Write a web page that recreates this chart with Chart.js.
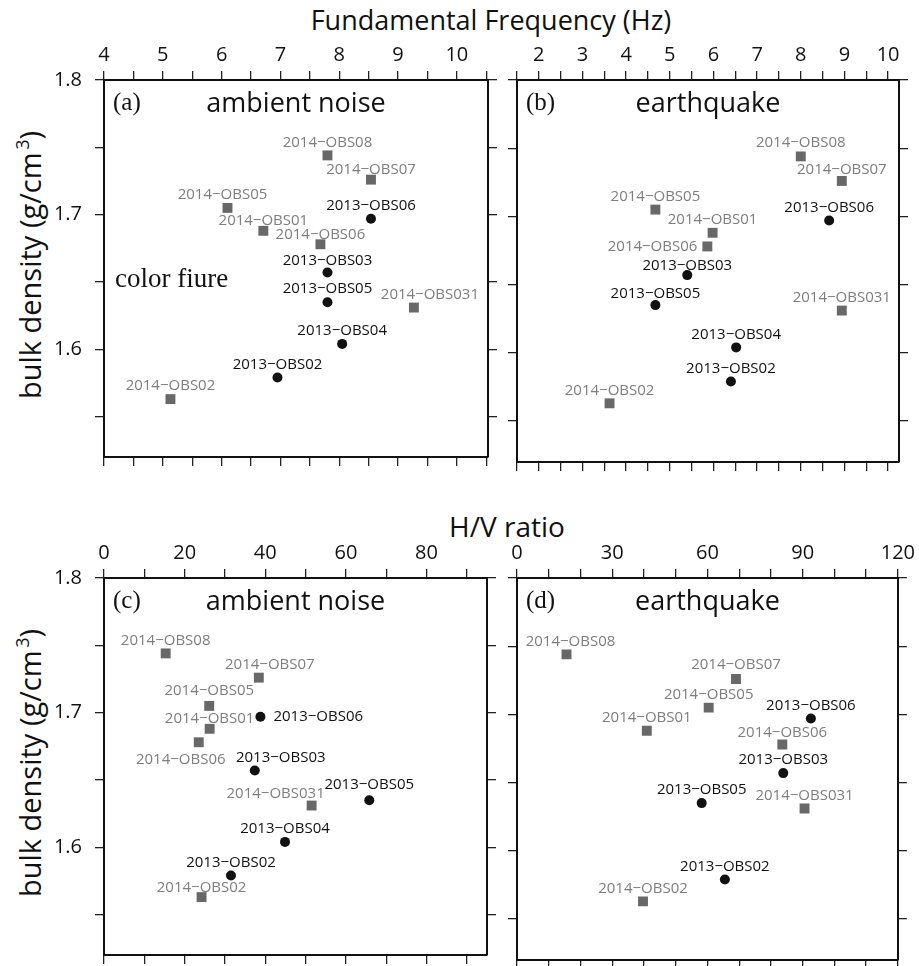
<!DOCTYPE html>
<html>
<head>
<meta charset="utf-8">
<script src="https://cdn.jsdelivr.net/npm/chart.js@4.4.1/dist/chart.umd.min.js"></script>
<style>
  body { margin: 0; background: #fff; width: 919px; height: 966px; position: relative; overflow: hidden; font-family: "Open Sans", sans-serif; color: #111; }
  canvas { position: absolute; }
  .title { position: absolute; transform: translate(-50%, -50%); white-space: nowrap; line-height: 1; }
  .ylab { position: absolute; transform: translate(-50%, -50%) rotate(-90deg); white-space: nowrap; line-height: 1; font-size: 29px; }
  .ylab sup { font-size: 60%; vertical-align: 0.7em; line-height: 0; margin-left: 3px; }
</style>
</head>
<body>
<div class="title" style="left:491px;top:19px;font-size:27px">Fundamental Frequency (Hz)</div>
<div class="title" style="left:507px;top:526px;font-size:28px">H/V ratio</div>
<div class="ylab" style="left:29px;top:265px">bulk density (g/cm<sup>3</sup>)</div>
<div class="ylab" style="left:29px;top:763px">bulk density (g/cm<sup>3</sup>)</div>
<canvas id="pa"></canvas>
<canvas id="pb"></canvas>
<canvas id="pc"></canvas>
<canvas id="pd"></canvas>
<script>
// stations and bulk density
const names2013 = ['2013−OBS02', '2013−OBS03', '2013−OBS04', '2013−OBS05', '2013−OBS06'];
const density2013 = [1.579, 1.657, 1.604, 1.635, 1.697];
const names2014 = ['2014−OBS01', '2014−OBS02', '2014−OBS031', '2014−OBS05', '2014−OBS06', '2014−OBS07', '2014−OBS08'];
const density2014 = [1.688, 1.563, 1.631, 1.705, 1.678, 1.726, 1.744];

// fundamental frequency (Hz)
const freqAmbient2013 = [6.95, 7.80, 8.05, 7.80, 8.54];
const freqAmbient2014 = [6.71, 5.13, 9.27, 6.10, 7.68, 8.54, 7.80];
const freqQuake2013 = [6.40, 5.40, 6.52, 4.67, 8.65];
const freqQuake2014 = [5.98, 3.62, 8.94, 4.67, 5.86, 8.94, 8.00];

// H/V ratio
const hvAmbient2013 = [31.5, 37.4, 44.9, 65.8, 38.8];
const hvAmbient2014 = [26.2, 24.2, 51.5, 26.1, 23.5, 38.4, 15.3];
const hvQuake2013 = [65.5, 83.9, null, 58.2, 92.6];
const hvQuake2014 = [40.9, 39.7, 90.6, 60.4, 83.6, 69.0, 15.6];

// tick labels
const freqTicksA = [4, 5, 6, 7, 8, 9, 10];
const freqTicksB = [2, 3, 4, 5, 6, 7, 8, 9, 10];
const hvTicksC = [0, 20, 40, 60, 80];
const hvTicksD = [0, 30, 60, 90, 120];
const densityTicks = [1.6, 1.7, 1.8];

// label offsets from the marker [dx, dy, align], default is centred above
const placeA = { '2014−OBS07': [0, -10], '2014−OBS05': [-5, -13], '2014−OBS01': [0, -10], '2014−OBS06': [0, -10], '2013−OBS03': [0, -12], '2014−OBS031': [16, -13] };
const placeB = { '2014−OBS08': [0, -14], '2014−OBS07': [0, -11], '2014−OBS06': [-10, 0, 'right'], '2013−OBS03': [0, -9], '2013−OBS05': [0, -11] };
const placeC = { '2014−OBS07': [11, -13], '2014−OBS05': [0, -15], '2014−OBS01': [0, -10], '2013−OBS06': [13, 0, 'left'], '2014−OBS06': [-18, 17], '2013−OBS03': [26, -13], '2013−OBS05': [0, -15], '2014−OBS031': [-36, -12], '2014−OBS02': [0, -9] };
const placeD = { '2014−OBS08': [4, -13], '2014−OBS07': [0, -14], '2014−OBS06': [0, -12] };

const panels = [
  { id: 'pa', box: [104, 80, 488, 462], min: 4, max: 10.53, step: 0.5, ticks: freqTicksA, showY: true, letter: '(a)', title: 'ambient noise', x13: freqAmbient2013, x14: freqAmbient2014, place: placeA, note: 'color fiure' },
  { id: 'pb', box: [517, 80, 899, 462], min: 1.5, max: 10.25, step: 0.5, ticks: freqTicksB, showY: false, letter: '(b)', title: 'earthquake', x13: freqQuake2013, x14: freqQuake2014, place: placeB },
  { id: 'pc', box: [104, 578, 487, 960], min: 0, max: 95, step: 10, ticks: hvTicksC, showY: true, letter: '(c)', title: 'ambient noise', x13: hvAmbient2013, x14: hvAmbient2014, place: placeC },
  { id: 'pd', box: [517, 578, 899, 960], min: 0, max: 120, step: 10, ticks: hvTicksD, showY: false, letter: '(d)', title: 'earthquake', x13: hvQuake2013, x14: hvQuake2014, place: placeD }
];

const PAD_L = 70, PAD_T = 50, PAD_R = 20, PAD_B = 20;

function stepTicks(min, max, step) {
  const t = [];
  for (let k = Math.ceil(min / step - 1e-9); k * step <= max + 1e-9; k++) t.push({ value: +(k * step).toFixed(6) });
  return t;
}

function points(xs, ys, names) {
  const out = [];
  xs.forEach((x, i) => { if (x != null) out.push({ x: x, y: ys[i], name: names[i] }); });
  return out;
}

const obsLabels = {
  id: 'obsLabels',
  afterDatasetsDraw(chart) {
    const o = chart.options.plugins.obsLabels;
    const ctx = chart.ctx, a = chart.chartArea;
    ctx.save();
    chart.data.datasets.forEach((ds, di) => {
      const meta = chart.getDatasetMeta(di);
      ctx.fillStyle = ds.labelColor;
      ctx.font = '15px "Open Sans"';
      ctx.textBaseline = 'middle';
      meta.data.forEach((el, i) => {
        const name = ds.data[i].name;
        const p = o.place[name] || [0, -13];
        ctx.textAlign = p[2] || 'center';
        ctx.fillText(name, el.x + p[0], el.y + p[1]);
      });
    });
    ctx.fillStyle = '#111';
    ctx.textBaseline = 'alphabetic';
    ctx.textAlign = 'left';
    ctx.font = '25px "Liberation Serif"';
    ctx.fillText(o.letter, a.left + 9, a.top + 30);
    if (o.note) {
      ctx.font = '27px "Liberation Serif"';
      ctx.fillText(o.note, a.left + 11, a.top + 207);
    }
    ctx.textAlign = 'center';
    ctx.font = '27px "Open Sans"';
    ctx.fillText(o.title, (a.left + a.right) / 2, a.top + 32);
    ctx.restore();
  }
};

function axis(position, min, max, step, labels, showLabels, size) {
  const horizontal = position === 'top' || position === 'bottom';
  return {
    type: 'linear',
    position: position,
    min: min,
    max: max,
    afterBuildTicks: s => { s.ticks = stepTicks(min, max, step); },
    afterFit: s => { if (horizontal) s.height = size; else s.width = size; },
    grid: { display: true, drawOnChartArea: false, drawTicks: true, tickLength: 9, lineWidth: 1.3, color: '#222' },
    border: { display: true, color: '#111', width: 2 },
    ticks: {
      display: showLabels,
      autoSkip: false,
      maxRotation: 0,
      padding: horizontal ? 4 : 13,
      color: '#111',
      font: { family: 'Open Sans', size: 20 },
      callback: v => labels.some(l => Math.abs(l - v) < 1e-6) ? String(v) : ''
    }
  };
}

panels.forEach(p => {
  const [l, t, r, b] = p.box;
  const cv = document.getElementById(p.id);
  cv.width = (r - l) + PAD_L + PAD_R;
  cv.height = (b - t) + PAD_T + PAD_B;
  cv.style.left = (l - PAD_L) + 'px';
  cv.style.top = (t - PAD_T) + 'px';

  new Chart(cv, {
    type: 'scatter',
    data: {
      datasets: [
        {
          data: points(p.x14, density2014, names2014),
          pointStyle: 'rect', pointRadius: 7, backgroundColor: '#686868', borderWidth: 0,
          labelColor: '#7e7e7e'
        },
        {
          data: points(p.x13, density2013, names2013),
          pointStyle: 'circle', pointRadius: 5, backgroundColor: '#111', borderWidth: 0,
          labelColor: '#111'
        }
      ]
    },
    options: {
      responsive: false,
      animation: false,
      layout: { padding: 0 },
      scales: {
        x: axis('top', p.min, p.max, p.step, p.ticks, true, PAD_T),
        x2: axis('bottom', p.min, p.max, p.step, p.ticks, false, PAD_B),
        y: axis('left', 1.52, 1.8, 0.05, densityTicks, p.showY, PAD_L),
        y2: axis('right', 1.52, 1.8, 0.05, densityTicks, false, PAD_R)
      },
      plugins: {
        legend: { display: false },
        tooltip: { enabled: false },
        obsLabels: { place: p.place, letter: p.letter, title: p.title, note: p.note }
      }
    },
    plugins: [obsLabels]
  });
});
</script>
</body>
</html>
